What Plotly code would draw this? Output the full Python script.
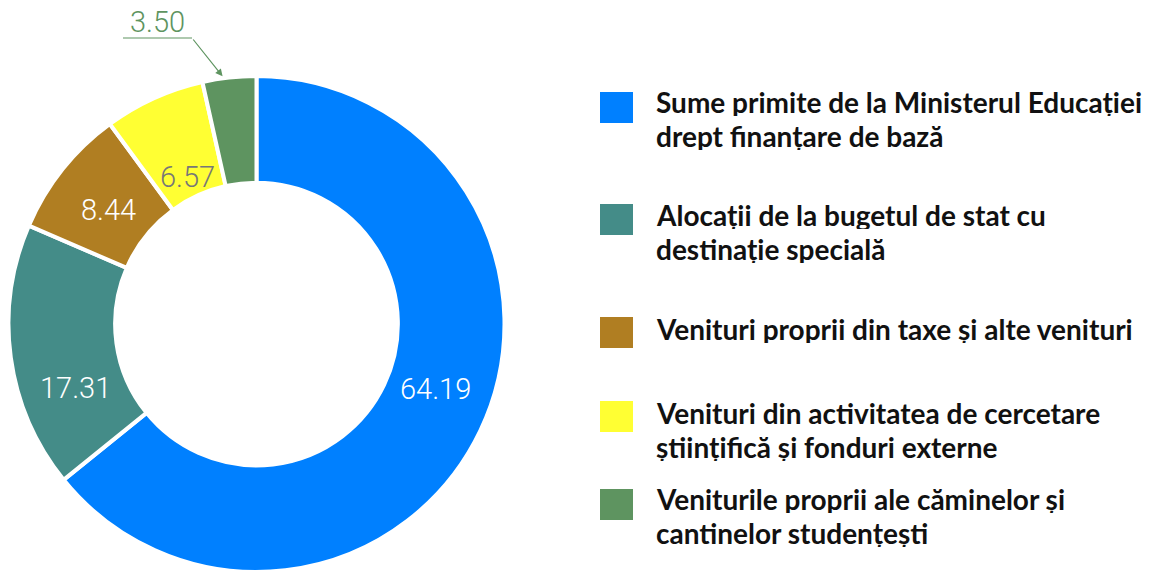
import math
import plotly.graph_objects as go

# Structura veniturilor (%)
categories = [
    "Sume primite de la Ministerul Educației<br>drept finanțare de bază",
    "Alocații de la bugetul de stat cu<br>destinație specială",
    "Venituri proprii din taxe și alte venituri",
    "Venituri din activitatea de cercetare<br>științifică și fonduri externe",
    "Veniturile proprii ale căminelor și<br>cantinelor studențești",
]
values = [64.19, 17.31, 8.44, 6.57, 3.50]
colors = ["#0080FF", "#448C88", "#B07E22", "#FFFF33", "#5E9460"]
label_colors = ["#FFFFFF", "#FFFFFF", "#FFFFFF", "#777777", "#5E9460"]

W, H = 1151, 572
# pie box in pixels (bottom edge sits on the page edge)
top = 76
R = (H - top) / 2
cx, cy = 256.5, top + R
dom_x = [(cx - R) / W, (cx + R) / W]
dom_y = [0, (H - top) / H]

fig = go.Figure()
fig.add_trace(go.Pie(
    labels=categories,
    values=values,
    sort=False,
    direction="clockwise",
    rotation=0,
    hole=0.57,
    marker=dict(colors=colors, line=dict(color="white", width=4)),
    textinfo="none",
    domain=dict(x=dom_x, y=dom_y),
    showlegend=False,
    hoverinfo="label+value",
))

# value labels placed around each slice's mid-angle
total = sum(values)
starts = [sum(values[:i]) for i in range(len(values))]
mids = [(s + v / 2) / total * 360.0 for s, v in zip(starts, values)]
angle_shift = [-5.6, -11.8, -1.0, -0.8]
label_radius = [190, 192, 187, 163]
for i in range(4):
    a = math.radians(mids[i] + angle_shift[i])
    px = cx + label_radius[i] * math.sin(a)
    py = cy - label_radius[i] * math.cos(a)
    fig.add_annotation(xref="paper", yref="paper", x=px / W, y=1 - py / H,
                       text=f"{values[i]:.2f}", showarrow=False,
                       xanchor="center", yanchor="middle",
                       font=dict(family="Roboto", size=29, color=label_colors[i], weight=300))

# callout for the smallest slice
tip_angle = math.radians(mids[-1] - 1.5)
tip_x = cx + (R + 2) * math.sin(tip_angle)
tip_y = cy - (R + 2) * math.cos(tip_angle)
elbow_x, elbow_y = 192, 38
fig.add_shape(type="line", xref="paper", yref="paper",
              x0=123 / W, x1=elbow_x / W, y0=1 - elbow_y / H, y1=1 - elbow_y / H,
              line=dict(color=colors[-1], width=1.2))
fig.add_annotation(xref="paper", yref="paper", axref="pixel", ayref="pixel",
                   x=tip_x / W, y=1 - tip_y / H,
                   ax=elbow_x - tip_x, ay=elbow_y - tip_y,
                   text="", showarrow=True, arrowhead=2, arrowsize=1.2,
                   arrowwidth=1.2, arrowcolor=colors[-1])
fig.add_annotation(xref="paper", yref="paper", x=157 / W, y=1 - 22 / H,
                   text=f"{values[-1]:.2f}", showarrow=False,
                   font=dict(family="Roboto", size=29, color=label_colors[-1], weight=300),
                   xanchor="center", yanchor="middle")

# legend: coloured squares with wrapped bold labels
square_top = [92, 204, 317, 401, 489]
line_mid = [[103, 137], [216, 250], [330], [414, 448], [500, 534]]
for i, cat in enumerate(categories):
    fig.add_shape(type="rect", xref="paper", yref="paper",
                  x0=600 / W, x1=633 / W,
                  y0=1 - square_top[i] / H, y1=1 - (square_top[i] + 31) / H,
                  fillcolor=colors[i], line=dict(width=0))
    for line, ym in zip(cat.split("<br>"), line_mid[i]):
        fig.add_annotation(xref="paper", yref="paper", x=655 / W, y=1 - (ym - 1) / H,
                           text=line, showarrow=False, xanchor="left", yanchor="middle",
                           height=28, borderpad=0, valign="middle",
                           font=dict(family="Lato", size=28, color="#111111", weight="bold"))

fig.update_layout(
    width=W, height=H,
    margin=dict(l=0, r=0, t=0, b=0),
    paper_bgcolor="white", plot_bgcolor="white",
)
fig.write_html("out.html")
